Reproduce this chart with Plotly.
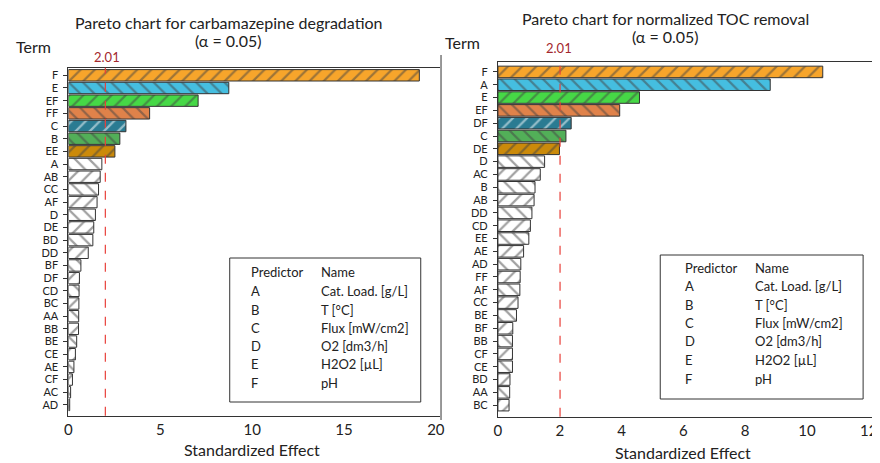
import plotly.graph_objects as go

# page body has an 8px margin; work in reference pixels and shift
OFF = 8
W, H = 880 - OFF, 463 - OFF

# ---- data ----
terms_left = ["F", "E", "EF", "FF", "C", "B", "EE", "A", "AB", "CC", "AF", "D", "DE", "BD",
              "DD", "BF", "DF", "CD", "BC", "AA", "BB", "BE", "CE", "AE", "CF", "AC", "AD"]
effects_left = [19.1, 8.73, 7.06, 4.42, 3.13, 2.8, 2.53, 1.82, 1.73, 1.64, 1.56, 1.47, 1.38, 1.33,
                1.08, 0.68, 0.6, 0.58, 0.57, 0.56, 0.55, 0.45, 0.38, 0.3, 0.22, 0.12, 0.07]

terms_right = ["F", "A", "E", "EF", "DF", "C", "DE", "D", "AC", "B", "AB", "DD", "CD", "EE",
               "AE", "AD", "FF", "AF", "CC", "BE", "BF", "BB", "CF", "CE", "BD", "AA", "BC"]
effects_right = [10.51, 8.81, 4.58, 3.94, 2.37, 2.2, 1.99, 1.51, 1.37, 1.2, 1.17, 1.1, 1.05, 1.0,
                 0.83, 0.74, 0.72, 0.71, 0.65, 0.6, 0.48, 0.47, 0.47, 0.47, 0.39, 0.38, 0.36]

critical = 2.01
predictors = ["A", "B", "C", "D", "E", "F"]
pred_names = ["Cat. Load. [g/L]", "T [°C]", "Flux [mW/cm2]", "O2 [dm3/h]", "H2O2 [µL]", "pH"]

sig_colors = ["#F7A52B", "#45BEE0", "#46D846", "#E0824A", "#2A7B92", "#52AF58", "#CB8A0A"]

FONT = "Lato"


def px(x):
    return (x - OFF) / W


def py(y):
    return 1 - (y - OFF) / H


def bar_trace(terms, effects, xa, ya):
    colors = [sig_colors[i] if i < len(sig_colors) else "white" for i in range(len(terms))]
    shapes = ["/" if i % 2 == 0 else "\\" for i in range(len(terms))]
    return go.Bar(
        x=effects, y=terms, orientation="h", xaxis=xa, yaxis=ya,
        marker=dict(color=colors, line=dict(color="#333333", width=1),
                    pattern=dict(shape=shapes, fillmode="overlay", fgcolor="black",
                                 size=10, solidity=0.22)),
        showlegend=False, hoverinfo="x+y",
    )


fig = go.Figure()
fig.add_trace(bar_trace(terms_left, effects_left, "x", "y"))
fig.add_trace(bar_trace(terms_right, effects_right, "x2", "y2"))

axis_common = dict(showline=True, linecolor="#333333", linewidth=1, showgrid=False,
                   zeroline=False, ticks="outside", ticklen=4, tickcolor="#333333")
xfont = dict(family=FONT, size=15, color="#222222")
yfont = dict(family=FONT, size=11, color="#222222")

fig.update_layout(
    width=W, height=H, margin=dict(l=0, r=0, t=0, b=0),
    paper_bgcolor="white", plot_bgcolor="white", bargap=0.1,
    font=dict(family=FONT, color="#222222"),
    xaxis=dict(domain=[px(65), px(440)], range=[0, 20.2], tickvals=[0, 5, 10, 15, 20],
               mirror=True, anchor="y", tickfont=xfont, **axis_common),
    yaxis=dict(domain=[py(415.7), py(67.7)], range=[26.85, -0.6], anchor="x",
               tickmode="array", tickvals=terms_left, ticktext=terms_left,
               ticklabelstandoff=3, tickfont=yfont, **axis_common),
    xaxis2=dict(domain=[px(499), px(880)], range=[0, 12.2], tickvals=[0, 2, 4, 6, 8, 10, 12],
                mirror=True, anchor="y2", tickfont=xfont, **axis_common),
    yaxis2=dict(domain=[py(416.7), py(62.3)], range=[26.9, -0.75], anchor="x2",
                tickmode="array", tickvals=terms_right, ticktext=terms_right,
                ticklabelstandoff=3, tickfont=yfont, **axis_common),
)
fig.update_xaxes(ticks="")

# critical value lines
for xr, yr in (("x", "y domain"), ("x2", "y2 domain")):
    fig.add_shape(type="line", xref=xr, yref=yr, x0=critical, x1=critical, y0=0, y1=1.0,
                  line=dict(color="#E8403A", width=1.2, dash="dash"))

# separator line near the panel edge
fig.add_shape(type="line", xref="paper", yref="paper", x0=px(441.5), x1=px(441.5),
              y0=py(420), y1=py(55), line=dict(color="#333333", width=1))

ann = []


def text(x, y, s, size=15, color="#222222", xanchor="center"):
    ann.append(dict(x=px(x), y=py(y), xref="paper", yref="paper", text=s, showarrow=False,
                    xanchor=xanchor, yanchor="middle",
                    font=dict(family=FONT, size=size, color=color)))


# titles
text(227, 22, "Pareto chart for carbamazepine degradation", 16)
text(227, 41, "(α = 0.05)", 16)
text(668, 18, "Pareto chart for normalized TOC removal", 16)
text(668, 37, "(α = 0.05)", 16)
text(10, 46, "Term", 16, xanchor="left")
text(443, 43, "Term", 16, xanchor="left")
text(104, 57, f"{critical:.2f}", 13, color="#A3282E")
text(561, 48, f"{critical:.2f}", 13, color="#A3282E")
text(250, 449, "Standardized Effect", 16)
text(686, 452, "Standardized Effect", 16)

# legend boxes
boxes = [dict(x0=228, y0=258, x1=421, y1=402, cx1=247, cx2=318, ys=[272, 291, 310, 328, 346, 364, 383]),
         dict(x0=663, y0=255, x1=868, y1=399, cx1=686, cx2=757, ys=[268, 286, 305, 323, 341, 360, 379])]
for b in boxes:
    fig.add_shape(type="rect", xref="paper", yref="paper", x0=px(b["x0"]), x1=px(b["x1"]),
                  y0=py(b["y1"]), y1=py(b["y0"]), line=dict(color="#333333", width=1),
                  fillcolor="white", layer="above")
    text(b["cx1"], b["ys"][0], "Predictor", 13, xanchor="left")
    text(b["cx2"], b["ys"][0], "Name", 13, xanchor="left")
    for p, n, yy in zip(predictors, pred_names, b["ys"][1:]):
        text(b["cx1"], yy, p, 13, xanchor="left")
        text(b["cx2"], yy, n, 13, xanchor="left")

fig.update_layout(annotations=ann)
fig.write_html("out.html")
